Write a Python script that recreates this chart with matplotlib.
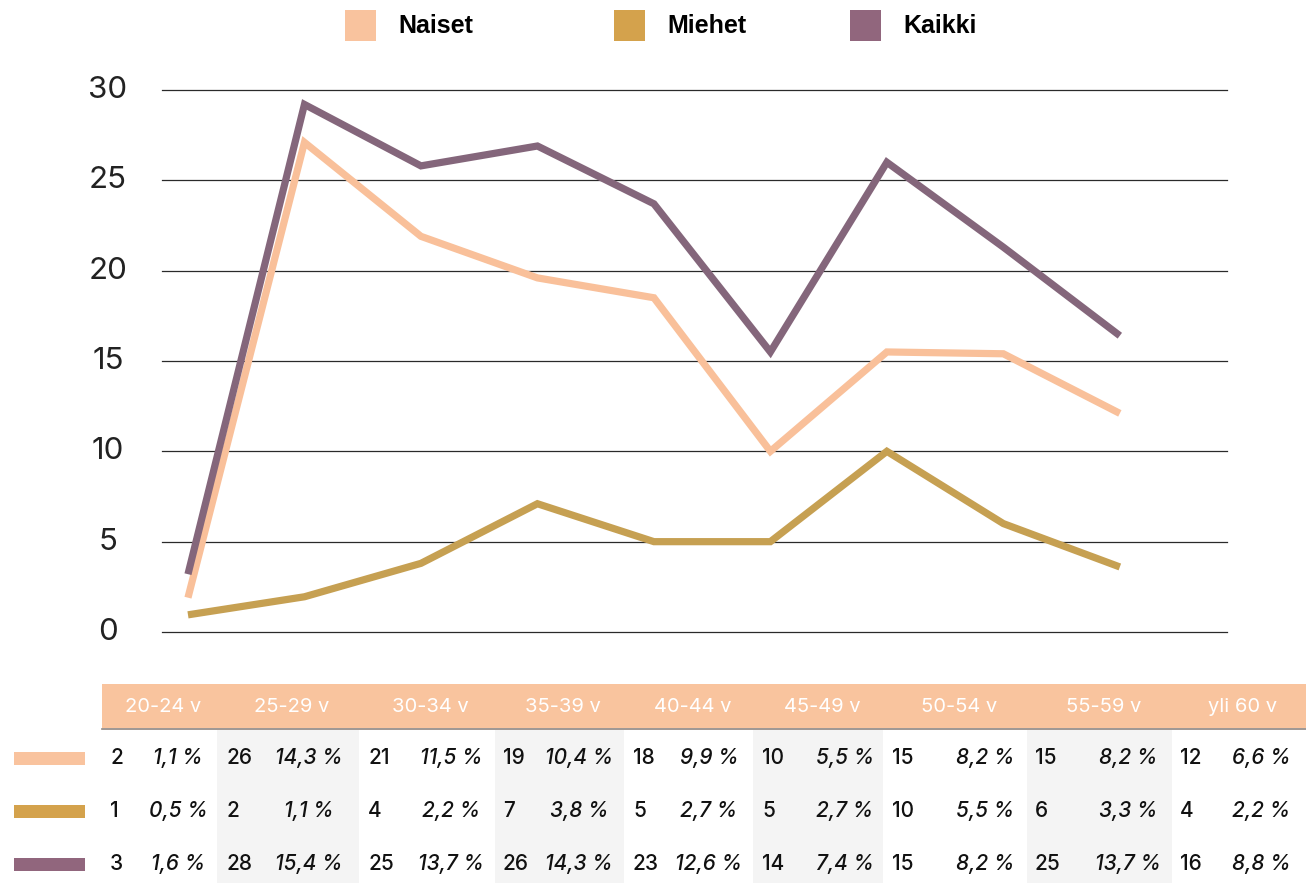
import matplotlib
matplotlib.use("Agg")
import matplotlib.pyplot as plt
from matplotlib.patches import Rectangle

# --- Data ---------------------------------------------------------------------
ages = ["20-24 v", "25-29 v", "30-34 v", "35-39 v", "40-44 v",
        "45-49 v", "50-54 v", "55-59 v", "yli 60 v"]

# values as drawn by the lines
naiset_line = [1.9, 27.1, 21.9, 19.6, 18.5, 10.0, 15.5, 15.4, 12.1]
miehet_line = [0.95, 1.95, 3.8, 7.1, 5.0, 5.0, 10.0, 6.0, 3.6]
kaikki_line = [3.2, 29.2, 25.8, 26.9, 23.7, 15.5, 26.0, 21.3, 16.4]

# table below the chart
n_naiset = [2, 26, 21, 19, 18, 10, 15, 15, 12]
p_naiset = ["1,1 %", "14,3 %", "11,5 %", "10,4 %", "9,9 %", "5,5 %", "8,2 %", "8,2 %", "6,6 %"]
n_miehet = [1, 2, 4, 7, 5, 5, 10, 6, 4]
p_miehet = ["0,5 %", "1,1 %", "2,2 %", "3,8 %", "2,7 %", "2,7 %", "5,5 %", "3,3 %", "2,2 %"]
n_kaikki = [3, 28, 25, 26, 23, 14, 15, 25, 16]
p_kaikki = ["1,6 %", "15,4 %", "13,7 %", "14,3 %", "12,6 %", "7,4 %", "8,2 %", "13,7 %", "8,8 %"]

series_names = ["Naiset", "Miehet", "Kaikki"]
yticks = [0, 5, 10, 15, 20, 25, 30]

# --- Styles -------------------------------------------------------------------
line_colors = ["#F9C09A", "#C6A052", "#84667B"]
swatch_colors = ["#F9C39E", "#D4A24C", "#91667D"]
header_color = "#F9C49E"
shade_color = "#F4F4F4"
txt_font = "Inter"

W, H = 1306, 883
fig = plt.figure(figsize=(W / 100, H / 100), dpi=100)

# --- Line chart ---------------------------------------------------------------
ax = fig.add_axes([162 / W, 1 - 632 / H, (1227 - 162) / W, (632 - 90) / H])
x = list(range(len(ages)))
ax.set_xlim(-0.223, 8.92)
ax.set_ylim(0, 30)
for v in yticks:
  ax.axhline(v, color="#2a2a2a", lw=0.9, zorder=1, clip_on=False)
for vals, col in zip([naiset_line, miehet_line, kaikki_line], line_colors):
  ax.plot(x, vals, color=col, lw=5.2, solid_capstyle="butt",
          solid_joinstyle="miter", zorder=3, clip_on=False)
for s in ax.spines.values():
  s.set_visible(False)
ax.set_xticks([])
ax.set_yticks([])
# tick labels, centred on their gridline (the glyphs sit a bit above it)
for v in yticks:
  ax.text(-0.0507, v, str(v), transform=ax.get_yaxis_transform(),
          fontsize=22.5, family=txt_font, color="#222222",
          ha="center", va="center")

# --- Overlay in pixel coordinates for legend and table -----------------------
ov = fig.add_axes([0, 0, 1, 1], zorder=-1)
ov.set_xlim(0, W)
ov.set_ylim(H, 0)
ov.axis("off")

top = fig.add_axes([0, 0, 1, 1], zorder=5)
top.set_xlim(0, W)
top.set_ylim(H, 0)
top.axis("off")
top.patch.set_alpha(0)

# legend
leg_sq_x = [345, 614, 850]
for name, col, sx in zip(series_names, swatch_colors, leg_sq_x):
  top.add_patch(Rectangle((sx, 10), 31, 31, color=col, lw=0))
  top.text(sx + 53, 26, name, fontsize=18, fontweight="bold",
           family="Liberation Sans", va="center", ha="left", color="black")

# table header
col_edges = [102, 217, 359, 495, 624, 753, 883, 1027, 1172, 1306]
ov.add_patch(Rectangle((102, 684), W - 102, 44, color=header_color, lw=0))
ov.plot([102, W], [729, 729], color="#8f8580", lw=1.2)
head_cx = [163, 292, 430, 563, 693, 822, 959, 1104, 1243]
for lab, cx in zip(ages, head_cx):
  ov.text(cx, 707, lab, color="white", fontsize=14.5, family=txt_font,
          ha="center", va="center")

# shaded columns
for i in range(1, 9, 2):
  ov.add_patch(Rectangle((col_edges[i], 730), col_edges[i + 1] - col_edges[i],
                         H - 730, color=shade_color, lw=0))

# rows
row_y = [758, 811, 864]
num_x = [110, 226, 368, 503, 633, 762, 892, 1035, 1180]
pct_cx = [178, 309, 451, 579, 709, 845, 985, 1128, 1261]
rows = [(n_naiset, p_naiset), (n_miehet, p_miehet), (n_kaikki, p_kaikki)]
for (nums, pcts), ry, col in zip(rows, row_y, swatch_colors):
  top.add_patch(Rectangle((14, ry - 6), 71, 13, color=col, lw=0))
  for n, p, nx, px in zip(nums, pcts, num_x, pct_cx):
    top.text(nx, ry, str(n), fontsize=15, family=txt_font, fontweight="medium",
             ha="left", va="center", color="#111111")
    top.text(px, ry, p, fontsize=15, family=txt_font, style="italic",
             fontweight="medium", ha="center", va="center", color="#111111")

fig.savefig("out.png", dpi=100)
